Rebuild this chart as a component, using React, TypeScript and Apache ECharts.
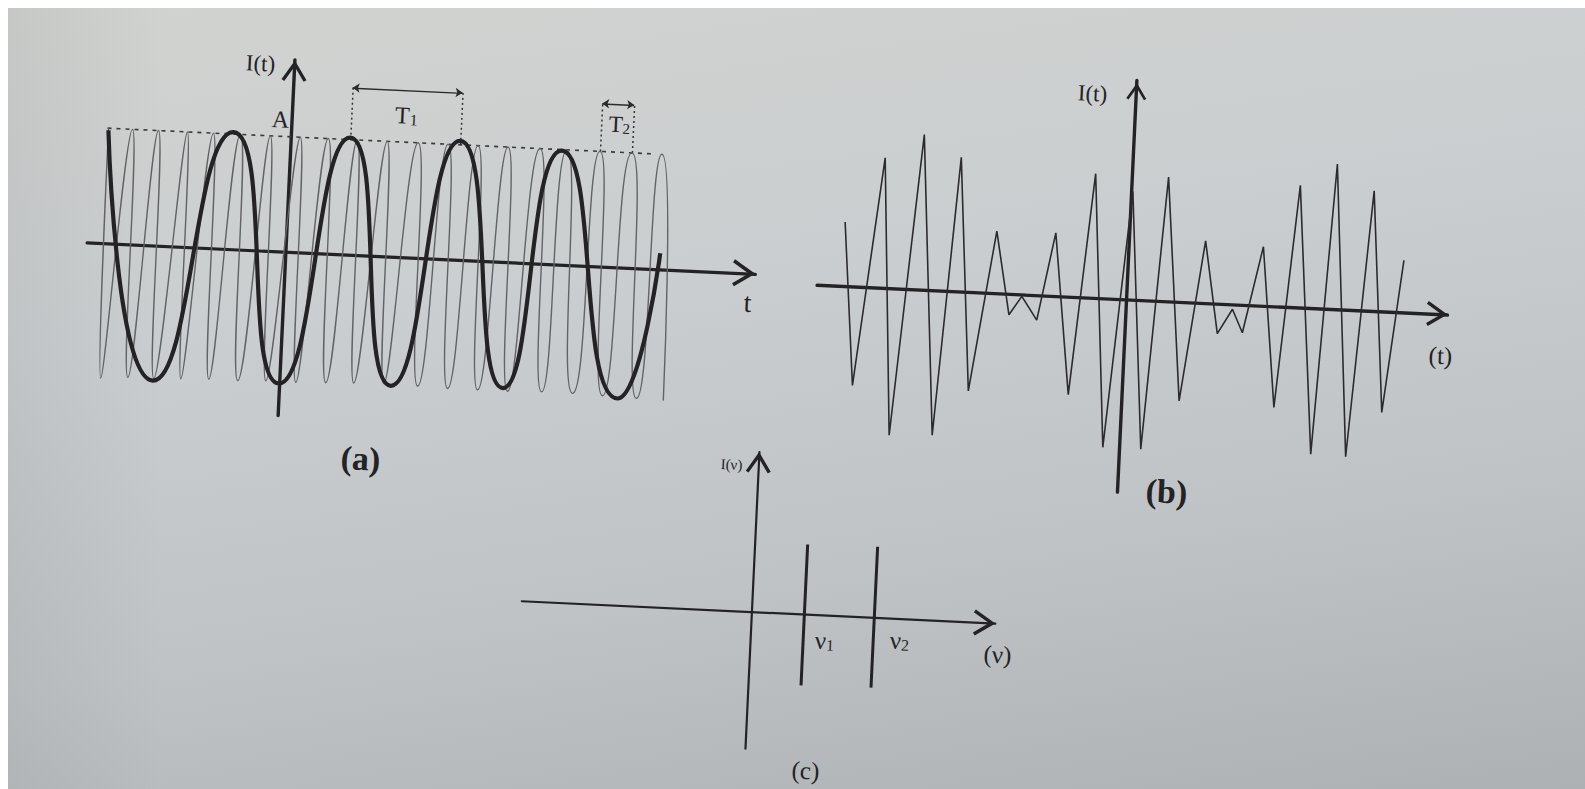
import React, { useEffect, useRef } from "react";
import * as echarts from "echarts";

// ---------------- DATA (t and I in drawing units) ----------------
// Panel (a): slow oscillation (thick) – extrema and end point
const thickT = [-183, -127, -58, -1, 59, 111, 169, 223, 271, 338, 374];
const thickI = [113, -135, 117, -132, 117, -129, 119, -126, 114, -131, 16];
// Panel (a): fast oscillation (thin) – alternating peaks / troughs
const thinT = [
  -183, -179, -159, -152, -133, -126, -104, -99, -78, -71, -51, -42, -21, -14, 9, 16, 37, 46, 66, 74,
  96, 104, 127, 138, 157, 168, 187, 198, 217, 228, 249, 262, 276, 293, 309, 323, 341, 357, 371, 384,
];
const thinI = [
  115, -135, 115, -133, 115, -133, 115, -132, 115, -131, 115, -131, 115, -130, 115, -130, 115, -129, 115, -128,
  115, -127, 115, -128, 115, -129, 115, -129, 115, -129, 115, -128, 115, -128, 115, -129, 115, -130, 115, -131,
];
const amplitudeA = 115;
const amplitudeSpan = [-184, 363];
const period1Span = [59, 169];
const period1Level = 167;
const period2Span = [309, 341];
const period2Level = 163;

// Panel (b): irregular signal vertices
const noiseT = [
  -285, -270, -248, -231, -210, -188, -172, -154, -133, -117, -105, -89, -74, -54, -37, -17, 1,
  21, 36, 57, 76, 92, 106, 117, 134, 152, 168, 191, 204, 226, 242, 260, 275,
];
const noiseI = [
  64, -99, 130, -147, 155, -145, 134, -99, 62, -21, -2, -25, 63, -98, 124, -149, 108,
  -149, 124, -99, 62, -30, -5, -28, 59, -101, 122, -146, 145, -147, 120, -101, 52,
];

// Panel (c): spectrum lines
const nuPos = [53, 123];
const nuTop = [70, 71];
const nuBottom = [-71, -70];

// Axis ranges per panel
const rangeA = { t: [-199, 470], i: [-164, 192] };
const rangeB = { t: [-310, 321], i: [-193, 219] };
const rangeC = { t: [-230, 244], i: [-137, 160] };

// Texts
const TXT = {
  aY: "I(t)", aAmp: "A", aT1: "{m|T}{s|1}", aT2: "{m|T}{s|2}", aX: "t", aCap: "(a)",
  bY: "I(t)", bX: "(t)", bCap: "(b)",
  cY: "I(ν)", cNu1: "{m|ν}{s|1}", cNu2: "{m|ν}{s|2}", cX: "(ν)", cCap: "(c)",
};

// ---------------- LAYOUT ----------------
const WRAP_W = 1577;
const WRAP_H = 781;
const IN_W = 1660;
const IN_H = 880;
const ANGLE_DEG = 2.7;
const ANG = (ANGLE_DEG * Math.PI) / 180;
const CS = Math.cos(ANG);
const SN = Math.sin(ANG);
const PCX = 8 + WRAP_W / 2;
const PCY = 8 + WRAP_H / 2;

function toInner(px: number, py: number): [number, number] {
  const dx = px - PCX;
  const dy = py - PCY;
  return [dx * CS + dy * SN + IN_W / 2, -dx * SN + dy * CS + IN_H / 2];
}

const INK = "#232325";
const THIN_INK = "#616366";
const SERIF = "'Liberation Serif', 'DejaVu Serif', serif";
const CHEVRON = "path://M13,0L26,20L23.06,21.9L13,6.4L2.94,21.9L0,20Z";

const PANELS = [
  { origin: [285.4, 251.2], range: rangeA, xw: 3.2, yw: 3.4, xArrow: [27, 23], yArrow: [25, 22] },
  { origin: [1126.3, 298.8], range: rangeB, xw: 3.4, yw: 3.4, xArrow: [27, 21], yArrow: [20, 22] },
  { origin: [751.1, 611.4], range: rangeC, xw: 2.2, yw: 2.2, xArrow: [27, 22], yArrow: [26, 21] },
];

const LABELS = [
  { text: TXT.aY, at: [260, 63], size: 23, weight: "normal" },
  { text: TXT.aAmp, at: [280, 119], size: 24, weight: "normal" },
  { text: TXT.aT1, at: [406, 115], size: 24, weight: "normal" },
  { text: TXT.aT2, at: [619, 124], size: 23, weight: "normal" },
  { text: TXT.aX, at: [747, 302], size: 28, weight: "normal" },
  { text: TXT.aCap, at: [360, 458], size: 34, weight: "bold" },
  { text: TXT.bY, at: [1092, 93], size: 23, weight: "normal" },
  { text: TXT.bX, at: [1440, 355], size: 25, weight: "normal" },
  { text: TXT.bCap, at: [1166, 491], size: 34, weight: "bold" },
  { text: TXT.cY, at: [731, 464], size: 15, weight: "normal" },
  { text: TXT.cNu1, at: [824, 640], size: 25, weight: "normal" },
  { text: TXT.cNu2, at: [899, 640], size: 25, weight: "normal" },
  { text: TXT.cX, at: [997, 654], size: 25, weight: "normal" },
  { text: TXT.cCap, at: [805, 770], size: 25, weight: "normal" },
];

function buildOption() {
  const grids: any[] = [];
  const xAxes: any[] = [];
  const yAxes: any[] = [];
  PANELS.forEach((p, idx) => {
    const o = toInner(p.origin[0], p.origin[1]);
    const [tMin, tMax] = p.range.t;
    const [iMin, iMax] = p.range.i;
    grids.push({
      left: o[0] + tMin,
      top: o[1] - iMax,
      width: tMax - tMin,
      height: iMax - iMin,
      containLabel: false,
      outerBoundsMode: "none",
    });
    xAxes.push({
      type: "value",
      gridIndex: idx,
      min: tMin,
      max: tMax,
      axisLine: {
        show: true,
        onZero: true,
        symbol: ["none", CHEVRON],
        symbolSize: p.xArrow,
        symbolOffset: [0, -p.xArrow[1] / 2],
        lineStyle: { color: INK, width: p.xw },
      },
      axisTick: { show: false },
      axisLabel: { show: false },
      splitLine: { show: false },
    });
    yAxes.push({
      type: "value",
      gridIndex: idx,
      min: iMin,
      max: iMax,
      axisLine: {
        show: true,
        onZero: true,
        symbol: ["none", CHEVRON],
        symbolSize: p.yArrow,
        symbolOffset: [0, -p.yArrow[1] / 2],
        lineStyle: { color: INK, width: p.yw },
      },
      axisTick: { show: false },
      axisLabel: { show: false },
      splitLine: { show: false },
    });
  });

  const series: any[] = [
    {
      name: "amplitude",
      type: "line",
      xAxisIndex: 0,
      yAxisIndex: 0,
      data: [
        [amplitudeSpan[0], amplitudeA],
        [amplitudeSpan[1], amplitudeA],
      ],
      symbol: "none",
      lineStyle: { color: "#3a3a3c", width: 1.6, type: [4, 5] },
      z: 2,
    },
    {
      name: "fast",
      type: "line",
      xAxisIndex: 0,
      yAxisIndex: 0,
      data: thinT.map((t, i) => [t, thinI[i]]),
      smooth: 0.9,
      symbol: "none",
      lineStyle: { color: THIN_INK, width: 1.4 },
      z: 3,
    },
    {
      name: "slow",
      type: "line",
      xAxisIndex: 0,
      yAxisIndex: 0,
      data: thickT.map((t, i) => [t, thickI[i]]),
      smooth: 0.6,
      symbol: "none",
      lineStyle: { color: INK, width: 4.2 },
      z: 4,
    },
    {
      name: "periodGuides",
      type: "lines",
      coordinateSystem: "cartesian2d",
      xAxisIndex: 0,
      yAxisIndex: 0,
      symbol: "none",
      lineStyle: { color: "#333335", width: 1.5, type: [2, 3], opacity: 1 },
      data: [
        { coords: [[period1Span[0], amplitudeA], [period1Span[0], period1Level]] },
        { coords: [[period1Span[1], amplitudeA], [period1Span[1], period1Level]] },
        { coords: [[period2Span[0], amplitudeA], [period2Span[0], period2Level]] },
        { coords: [[period2Span[1], amplitudeA], [period2Span[1], period2Level]] },
      ],
      z: 3,
    },
    {
      name: "periodArrows",
      type: "lines",
      coordinateSystem: "cartesian2d",
      xAxisIndex: 0,
      yAxisIndex: 0,
      symbol: ["arrow", "arrow"],
      symbolSize: 7,
      lineStyle: { color: "#2a2a2c", width: 1.4, opacity: 1 },
      data: [
        { coords: [[period1Span[0], period1Level], [period1Span[1], period1Level]] },
        { coords: [[period2Span[0], period2Level], [period2Span[1], period2Level]] },
      ],
      z: 3,
    },
    {
      name: "signal",
      type: "line",
      xAxisIndex: 1,
      yAxisIndex: 1,
      data: noiseT.map((t, i) => [t, noiseI[i]]),
      symbol: "none",
      lineStyle: { color: "#2b2b2d", width: 1.6 },
      z: 3,
    },
    {
      name: "spectrum",
      type: "lines",
      coordinateSystem: "cartesian2d",
      xAxisIndex: 2,
      yAxisIndex: 2,
      symbol: "none",
      lineStyle: { color: INK, width: 3, opacity: 1 },
      data: nuPos.map((n, i) => ({ coords: [[n, nuBottom[i]], [n, nuTop[i]]] })),
      z: 3,
    },
  ];

  const graphics = LABELS.map((l) => {
    const [x, y] = toInner(l.at[0], l.at[1]);
    return {
      type: "text",
      x,
      y,
      z: 10,
      style: {
        text: l.text,
        fill: INK,
        fontFamily: SERIF,
        fontSize: l.size,
        fontWeight: l.weight,
        align: "center",
        verticalAlign: "middle",
        textAlign: "center",
        textVerticalAlign: "middle",
        rich: {
          m: { fontSize: l.size, fontFamily: SERIF, fill: INK, verticalAlign: "bottom" },
          s: { fontSize: Math.round(l.size * 0.65), fontFamily: SERIF, fill: INK, verticalAlign: "bottom" },
        },
      },
    };
  });

  return {
    animation: false,
    backgroundColor: "transparent",
    grid: grids,
    xAxis: xAxes,
    yAxis: yAxes,
    series,
    graphic: graphics,
  };
}

export default function App() {
  const ref = useRef<HTMLDivElement | null>(null);
  useEffect(() => {
    if (!ref.current) return;
    const chart = echarts.init(ref.current, null, { renderer: "svg" });
    chart.setOption(buildOption() as any);
    return () => chart.dispose();
  }, []);
  return (
    <div
      style={{
        position: "fixed",
        left: 8,
        top: 8,
        width: WRAP_W,
        height: WRAP_H,
        overflow: "hidden",
        background:
          "linear-gradient(90deg, rgba(70,72,80,0.08) 0%, rgba(70,72,80,0) 10%), linear-gradient(172deg, #d1d3d0 0%, #cbced0 35%, #c0c3c6 68%, #aeb1b3 100%)",
      }}
    >
      <div
        ref={ref}
        style={{
          position: "absolute",
          left: (WRAP_W - IN_W) / 2,
          top: (WRAP_H - IN_H) / 2,
          width: IN_W,
          height: IN_H,
          transform: `rotate(${ANGLE_DEG}deg)`,
          transformOrigin: "50% 50%",
        }}
      />
    </div>
  );
}
